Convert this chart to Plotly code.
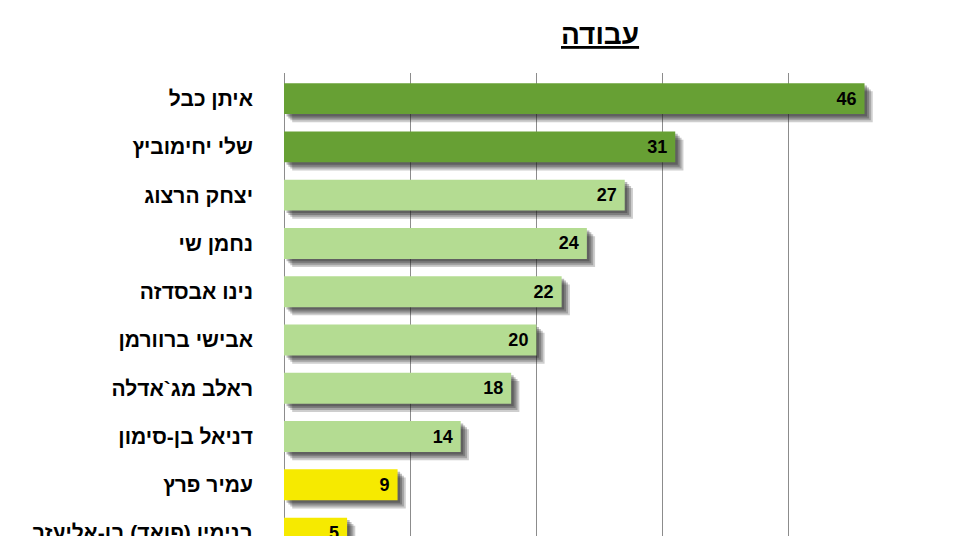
import plotly.graph_objects as go

names = ["איתן כבל", "שלי יחימוביץ", "יצחק הרצוג", "נחמן שי", "נינו אבסדזה",
         "אבישי ברוורמן", "ראלב מג`אדלה", "דניאל בן-סימון", "עמיר פרץ",
         "בנימין (פואד) בן-אליעזר"]
values = [46, 31, 27, 24, 22, 20, 18, 14, 9, 5]
colors = ["#67A034", "#67A034", "#B4DC92", "#B4DC92", "#B4DC92", "#B4DC92",
          "#B4DC92", "#B4DC92", "#F6EA00", "#F6EA00"]

positions = list(range(len(names)))
BAR_W = 0.64

fig = go.Figure()

# soft drop shadow layers
for dx, dy, op in [(0.65, 0.17, 0.22), (0.5, 0.13, 0.25), (0.35, 0.09, 0.28), (0.2, 0.05, 0.3)]:
    fig.add_trace(go.Bar(
        y=positions, x=values, base=dx, orientation="h",
        width=BAR_W, offset=-BAR_W / 2 + dy,
        marker=dict(color="rgba(30,30,30,%s)" % op, line=dict(width=0)),
        hoverinfo="skip", showlegend=False,
    ))

fig.add_trace(go.Bar(
    y=positions, x=values, orientation="h", width=BAR_W, offset=-BAR_W / 2,
    marker=dict(color=colors, line=dict(width=0)),
    text=["%d&nbsp;" % v for v in values], textposition="inside", insidetextanchor="end",
    textfont=dict(family="Liberation Sans", size=18, color="black", weight="bold"),
    textangle=0, showlegend=False,
))

PLOT_H = 463
fig.update_layout(
    width=955, height=536,
    margin=dict(l=276, r=48, t=65, b=8, autoexpand=False),
    paper_bgcolor="white", plot_bgcolor="white",
    barmode="overlay",
    font=dict(family="Liberation Sans", color="black"),
    xaxis=dict(range=[0, 50], dtick=10, showgrid=True, gridcolor="#8c8c8c",
               gridwidth=1, showticklabels=False, zeroline=True,
               zerolinecolor="#8c8c8c", zerolinewidth=1, fixedrange=True,
               automargin=False),
    yaxis=dict(tickvals=positions, ticktext=names, range=[9.06, -0.53],
               showgrid=False, zeroline=False, ticks="", automargin=False,
               ticklabelstandoff=30, ticklabeloverflow="allow",
               tickfont=dict(family="Liberation Sans", size=21, color="black",
                             weight="bold")),
)
fig.add_annotation(text="<b><u>עבודה</u></b>", xref="paper", yref="paper",
                   x=0.5, y=1 + (65 - 27) / PLOT_H, yanchor="middle",
                   showarrow=False,
                   font=dict(family="Liberation Sans", size=28, color="black"))

fig.write_html("out.html")
